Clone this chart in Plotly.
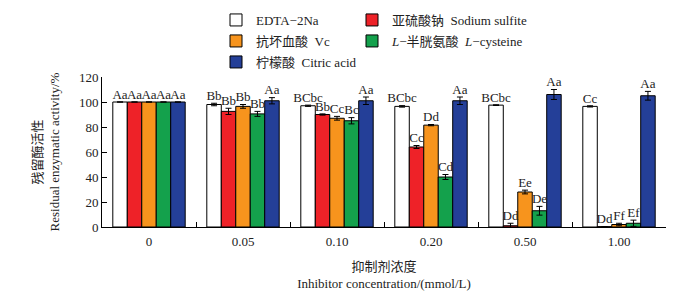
import plotly.graph_objects as go

categories = ["0", "0.05", "0.10", "0.20", "0.50", "1.00"]

series_names = [
    "EDTA−2Na",
    "亚硫酸钠  Sodium sulfite",
    "抗坏血酸  Vc",
    "<i>L</i>−半胱氨酸  <i>L</i>−cysteine",
    "柠檬酸  Citric acid",
]
colors = ["#ffffff", "#ee2228", "#f7941d", "#14a14c", "#243f98"]

edta_vals = [100, 98, 97, 96.5, 97.5, 96.5]
edta_err = [0, 1, 0.5, 0.6, 0.3, 0.5]
sulfite_vals = [100, 92.5, 90, 64, 1, 0.3]
sulfite_err = [0, 2.5, 0.5, 1.2, 2, 0]
vc_vals = [100, 96.5, 87, 81.5, 28, 2]
vc_err = [0, 1.5, 1.5, 0.5, 1.5, 1]
cys_vals = [100, 90.5, 85, 40, 13, 3]
cys_err = [0, 2, 2.5, 2, 3.5, 2.5]
citric_vals = [100, 101, 101, 101, 106, 105]
citric_err = [0, 2.5, 3, 3, 4, 3.5]

edta_labels = ["Aa", "Bb", "BCbc", "BCbc", "BCbc", "Cc"]
sulfite_labels = ["Aa", "Bb", "Bb", "Cc", "Dd", "Dd"]
vc_labels = ["Aa", "Bb", "Cc", "Dd", "Ee", "Ff"]
cys_labels = ["Aa", "Bb", "Bc", "Cd", "De", "Ef"]
citric_labels = ["Aa", "Aa", "Aa", "Aa", "Aa", "Aa"]

values = [edta_vals, sulfite_vals, vc_vals, cys_vals, citric_vals]
errors = [edta_err, sulfite_err, vc_err, cys_err, citric_err]
labels = [edta_labels, sulfite_labels, vc_labels, cys_labels, citric_labels]
legend_ids = ["legend", "legend2", "legend3", "legend4", "legend5"]

FONT = "Liberation Serif, Times New Roman, Noto Sans CJK SC, serif"
W, H = 684, 295

fig = go.Figure()
for i in range(5):
    fig.add_trace(go.Bar(
        x=categories, y=values[i], name=series_names[i],
        marker=dict(color=colors[i], line=dict(color="black", width=1)),
        error_y=dict(type="data", array=errors[i], color="black", thickness=1, width=3),
        offsetgroup=str(i), alignmentgroup="a",
        legend=legend_ids[i], hoverinfo="skip",
    ))
for i in range(5):
    tops = [v + e for v, e in zip(values[i], errors[i])]
    fig.add_trace(go.Scatter(
        x=categories, y=tops, mode="text", text=labels[i],
        textposition="top center",
        textfont=dict(family=FONT, size=13, color="#222"),
        offsetgroup=str(i), alignmentgroup="a",
        showlegend=False, hoverinfo="skip", cliponaxis=False,
    ))

legend_common = dict(
    orientation="h",
    xref="container", yref="container", xanchor="left", yanchor="middle",
    font=dict(family=FONT, size=13, color="#222"), bgcolor="rgba(0,0,0,0)",
    itemclick=False, itemdoubleclick=False,
)
col1, col2 = 216 / W, 352 / W
row1, row2, row3 = 1 - 20 / H, 1 - 41 / H, 1 - 62 / H

fig.update_layout(
    width=W, height=H,
    margin=dict(l=102, r=18, t=77, b=68, autoexpand=False),
    paper_bgcolor="white", plot_bgcolor="white",
    barmode="group", bargap=0.23, bargroupgap=0,
    scattermode="group", scattergap=0.23,
    font=dict(family=FONT, size=13, color="#222"),
    showlegend=True,
    legend=dict(**legend_common, x=col1, y=row1),
    legend2=dict(**legend_common, x=col2, y=row1),
    legend3=dict(**legend_common, x=col1, y=row2),
    legend4=dict(**legend_common, x=col2, y=row2),
    legend5=dict(**legend_common, x=col1, y=row3),
    xaxis=dict(
        type="category", tickson="boundaries", ticks="inside", ticklen=5,
        tickcolor="black", showline=True, linecolor="black", linewidth=1,
        showgrid=False, automargin=False, ticklabelstandoff=2,
        tickfont=dict(family=FONT, size=13, color="#222"),
        title=dict(text="抑制剂浓度<br>Inhibitor concentration/(mmol/L)",
                   font=dict(family=FONT, size=13, color="#222"), standoff=14),
    ),
    yaxis=dict(
        range=[0, 120], dtick=20, ticks="inside", ticklen=5, tickcolor="black",
        showline=True, linecolor="black", linewidth=1, showgrid=False,
        zeroline=False, automargin=False,
        tickfont=dict(family=FONT, size=13, color="#222"),
        title=dict(text="残留酶活性<br>Residual enzymatic activity/%",
                   font=dict(family=FONT, size=13, color="#222"), standoff=16),
    ),
)

fig.write_html("out.html", config={"displayModeBar": False},
               post_script="document.body.style.margin='0';")
